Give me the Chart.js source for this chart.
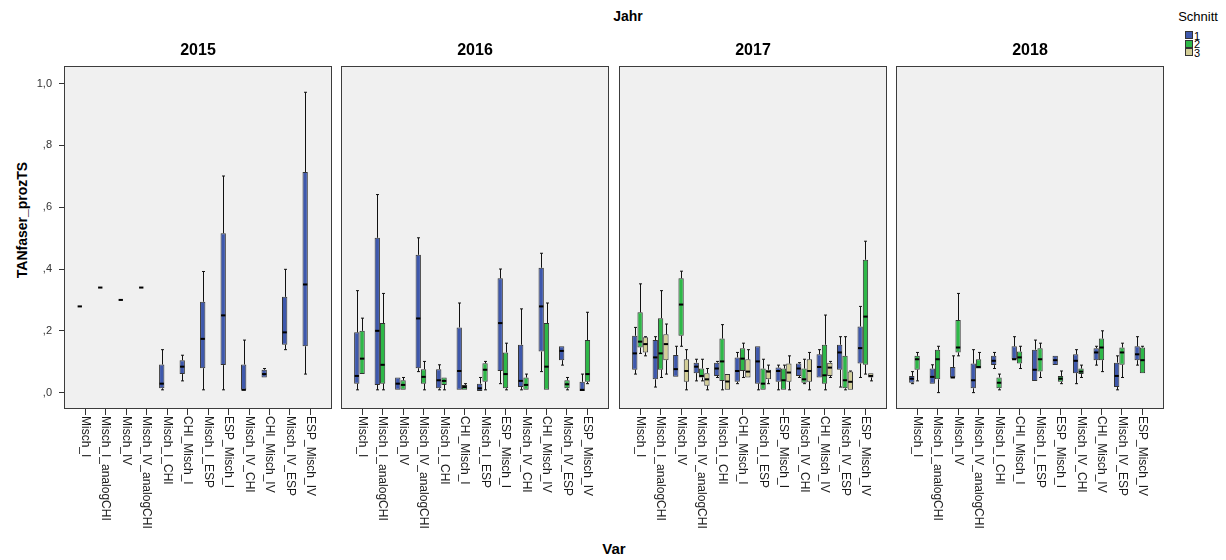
<!DOCTYPE html>
<html>
<head>
<meta charset="utf-8">
<script src="https://cdn.jsdelivr.net/npm/chart.js@4.4.0/dist/chart.umd.min.js"></script>
<style>
  body { margin: 0; background: #fff; font-family: "Liberation Sans", Arial, sans-serif; }
  #wrap { position: relative; width: 1226px; height: 560px; overflow: hidden; }
  #wrap canvas { position: absolute; top: 0; }
  .lbl { position: absolute; color: #000; white-space: nowrap; transform: translate(-50%, -50%); }
  .sw { position: absolute; width: 8px; height: 8px; box-sizing: border-box; border: 1px solid #333; }
  .swl { position: absolute; font-size: 11px; line-height: 11px; color: #000; transform: translateY(-50%); }
</style>
</head>
<body>
<div id="wrap">
  <div class="lbl" style="left:628px;top:16px;font-size:14px;font-weight:bold">Jahr</div>
  <div class="lbl" style="left:614px;top:548px;font-size:15px;font-weight:bold">Var</div>
  <div class="lbl" style="left:22px;top:220px;font-size:14px;font-weight:bold;transform:translate(-50%,-50%) rotate(-90deg)">TANfaser_prozTS</div>
  <div class="lbl" style="left:1198px;top:16px;font-size:13px">Schnitt</div>
</div>
<script>
// categories
const vars = ['Misch_I', 'Misch_I_analogCHI', 'Misch_IV', 'Misch_IV_analogCHI', 'Misch_I_CHI', 'CHI_Misch_I',
  'Misch_I_ESP', 'ESP_Misch_I', 'Misch_IV_CHI', 'CHI_Misch_IV', 'Misch_IV_ESP', 'ESP_Misch_IV'];
const years = ['2015', '2016', '2017', '2018'];
const schnitt = ['1', '2', '3'];
const yTicks = [0, 0.2, 0.4, 0.6, 0.8, 1.0];

// box stats per Var: [min, q1, median, q3, max]
const y2015_s1 = [
  [0.279, 0.279, 0.279, 0.279, 0.279],
  [0.340, 0.340, 0.340, 0.340, 0.340],
  [0.300, 0.300, 0.300, 0.300, 0.300],
  [0.340, 0.340, 0.340, 0.340, 0.340],
  [0.009, 0.014, 0.029, 0.091, 0.139],
  [0.038, 0.060, 0.084, 0.105, 0.121],
  [0.009, 0.079, 0.174, 0.294, 0.392],
  [0.009, 0.089, 0.250, 0.516, 0.701],
  [0.009, 0.009, 0.009, 0.091, 0.170],
  [0.049, 0.049, 0.060, 0.074, 0.078],
  [0.139, 0.155, 0.195, 0.310, 0.399],
  [0.060, 0.150, 0.350, 0.714, 0.972]
];
const y2016_s1 = [
  [0.009, 0.029, 0.054, 0.195, 0.330],
  [0.009, 0.025, 0.200, 0.501, 0.641],
  [0.009, 0.009, 0.029, 0.049, 0.049],
  [0.068, 0.079, 0.240, 0.446, 0.501],
  [0.009, 0.014, 0.040, 0.076, 0.090],
  [0.009, 0.009, 0.070, 0.211, 0.290],
  [0.005, 0.005, 0.014, 0.029, 0.049],
  [0.029, 0.070, 0.225, 0.370, 0.400],
  [0.009, 0.018, 0.038, 0.155, 0.271],
  [0.068, 0.133, 0.279, 0.404, 0.451],
  [0.089, 0.105, 0.135, 0.150, 0.150],
  [0.005, 0.005, 0.009, 0.035, 0.060]
];
const y2016_s2 = [
  [0.060, 0.060, 0.110, 0.200, 0.241],
  [0.009, 0.029, 0.090, 0.225, 0.321],
  [0.009, 0.009, 0.025, 0.040, 0.049],
  [0.009, 0.029, 0.051, 0.076, 0.101],
  [0.009, 0.025, 0.038, 0.049, 0.049],
  [0.009, 0.009, 0.018, 0.025, 0.029],
  [0.009, 0.035, 0.074, 0.095, 0.101],
  [0.009, 0.014, 0.060, 0.130, 0.160],
  [0.009, 0.009, 0.025, 0.049, 0.060],
  [0.009, 0.009, 0.084, 0.225, 0.290],
  [0.009, 0.014, 0.027, 0.040, 0.049],
  [0.029, 0.035, 0.060, 0.170, 0.260]
];
const y2017_s1 = [
  [0.060, 0.074, 0.127, 0.184, 0.211],
  [0.018, 0.043, 0.114, 0.170, 0.181],
  [0.051, 0.051, 0.076, 0.122, 0.150],
  [0.038, 0.063, 0.084, 0.097, 0.108],
  [0.049, 0.054, 0.078, 0.097, 0.101],
  [0.029, 0.035, 0.070, 0.114, 0.130],
  [0.009, 0.029, 0.101, 0.150, 0.150],
  [0.009, 0.035, 0.070, 0.081, 0.089],
  [0.049, 0.054, 0.078, 0.094, 0.097],
  [0.049, 0.049, 0.083, 0.124, 0.139],
  [0.018, 0.074, 0.130, 0.155, 0.181],
  [0.049, 0.094, 0.144, 0.214, 0.279]
];
const y2017_s2 = [
  [0.127, 0.146, 0.165, 0.260, 0.352],
  [0.049, 0.074, 0.127, 0.241, 0.330],
  [0.150, 0.184, 0.285, 0.370, 0.393],
  [0.038, 0.049, 0.054, 0.078, 0.108],
  [0.009, 0.038, 0.101, 0.175, 0.220],
  [0.049, 0.070, 0.110, 0.144, 0.160],
  [0.009, 0.009, 0.029, 0.078, 0.108],
  [0.009, 0.009, 0.040, 0.078, 0.089],
  [0.029, 0.032, 0.043, 0.078, 0.108],
  [0.009, 0.029, 0.056, 0.155, 0.251],
  [0.009, 0.014, 0.040, 0.119, 0.181],
  [0.060, 0.090, 0.246, 0.430, 0.490]
];
const y2017_s3 = [
  [0.119, 0.130, 0.157, 0.179, 0.181],
  [0.060, 0.105, 0.157, 0.189, 0.222],
  [0.009, 0.035, 0.070, 0.108, 0.139],
  [0.009, 0.022, 0.043, 0.063, 0.078],
  [0.009, 0.009, 0.036, 0.060, 0.060],
  [0.049, 0.049, 0.068, 0.108, 0.139],
  [0.029, 0.043, 0.068, 0.074, 0.089],
  [0.009, 0.035, 0.065, 0.094, 0.119],
  [0.009, 0.035, 0.070, 0.108, 0.130],
  [0.049, 0.054, 0.081, 0.097, 0.101],
  [0.009, 0.009, 0.035, 0.068, 0.070],
  [0.038, 0.049, 0.054, 0.063, 0.063]
];
const y2018_s1 = [
  [0.029, 0.032, 0.045, 0.054, 0.068],
  [0.029, 0.029, 0.051, 0.078, 0.090],
  [0.049, 0.049, 0.049, 0.083, 0.119],
  [0.000, 0.014, 0.040, 0.094, 0.139],
  [0.078, 0.089, 0.103, 0.119, 0.130],
  [0.108, 0.108, 0.108, 0.150, 0.181],
  [0.038, 0.038, 0.074, 0.139, 0.170],
  [0.089, 0.089, 0.105, 0.119, 0.119],
  [0.029, 0.063, 0.103, 0.124, 0.139],
  [0.089, 0.105, 0.130, 0.144, 0.150],
  [0.009, 0.018, 0.054, 0.097, 0.119],
  [0.089, 0.105, 0.124, 0.150, 0.181]
];
const y2018_s2 = [
  [0.038, 0.074, 0.108, 0.119, 0.130],
  [0.000, 0.043, 0.108, 0.139, 0.150],
  [0.119, 0.130, 0.146, 0.235, 0.321],
  [0.078, 0.078, 0.083, 0.108, 0.130],
  [0.009, 0.014, 0.032, 0.049, 0.060],
  [0.078, 0.094, 0.114, 0.133, 0.150],
  [0.049, 0.068, 0.108, 0.144, 0.160],
  [0.029, 0.035, 0.045, 0.054, 0.070],
  [0.049, 0.060, 0.068, 0.078, 0.089],
  [0.068, 0.105, 0.146, 0.175, 0.200],
  [0.049, 0.090, 0.130, 0.146, 0.160],
  [0.063, 0.063, 0.105, 0.146, 0.150]
];

const panelSeries = [
  [y2015_s1, null, null],
  [y2016_s1, y2016_s2, null],
  [y2017_s1, y2017_s2, y2017_s3],
  [y2018_s1, y2018_s2, null]
];

const colors = ['#3e58ac', '#2eb848', '#d3ce97'];
const frameLeft = [64, 341, 619, 896];
const frameW = 268;
const FONT = '"Liberation Sans", Arial, sans-serif';

const wrap = document.getElementById('wrap');

// legend
schnitt.forEach((s, k) => {
  const sw = document.createElement('div');
  sw.className = 'sw';
  sw.style.left = '1185px';
  sw.style.top = (31 + k * 8.5) + 'px';
  sw.style.background = colors[k];
  wrap.appendChild(sw);
  const t = document.createElement('div');
  t.className = 'swl';
  t.style.left = '1194px';
  t.style.top = (35.5 + k * 8.5) + 'px';
  t.textContent = s;
  wrap.appendChild(t);
});

const fmt = (v) => v.toFixed(1).replace('.', ',').replace(/^0/, '');

const boxPlugin = {
  id: 'spssBoxes',
  beforeDraw(chart) {
    const { ctx, chartArea: a } = chart;
    ctx.save();
    ctx.fillStyle = '#f0f0f0';
    ctx.fillRect(a.left, a.top, a.right - a.left, a.bottom - a.top);
    ctx.restore();
  },
  afterDatasetsDraw(chart) {
    const { ctx } = chart;
    const yScale = chart.scales.y;
    chart.data.datasets.forEach((ds, d) => {
      const meta = chart.getDatasetMeta(d);
      ds.stats.forEach((s, i) => {
        if (!s) return;
        const bar = meta.data[i];
        const x = Math.round(bar.x) + 0.5;
        const w = bar.width;
        const [mn, q1, md, q3, mx] = s.map((v) => yScale.getPixelForValue(v));
        ctx.save();
        ctx.strokeStyle = '#111';
        ctx.lineWidth = 1;
        ctx.beginPath();
        if (mx < q3 - 0.5) {
          ctx.moveTo(x, q3); ctx.lineTo(x, mx);
          ctx.moveTo(x - 1.5, mx); ctx.lineTo(x + 1.5, mx);
        }
        if (mn > q1 + 0.5) {
          ctx.moveTo(x, q1); ctx.lineTo(x, mn);
          ctx.moveTo(x - 1.5, mn); ctx.lineTo(x + 1.5, mn);
        }
        ctx.stroke();
        ctx.fillStyle = '#000';
        ctx.fillRect(bar.x - w / 2 + 0.5, md - 1, w - 1, 2);
        ctx.restore();
      });
    });
  },
  afterDraw(chart, args, opts) {
    const { ctx, chartArea: a } = chart;
    const xScale = chart.scales.x;
    ctx.save();
    // frame
    ctx.strokeStyle = '#3c3c3c';
    ctx.lineWidth = 1;
    ctx.strokeRect(a.left + 0.5, a.top + 0.5, a.right - a.left - 1, a.bottom - a.top - 1);
    // panel title
    ctx.fillStyle = '#000';
    ctx.font = 'bold 16px ' + FONT;
    ctx.textAlign = 'center';
    ctx.textBaseline = 'middle';
    ctx.fillText(opts.title, (a.left + a.right) / 2, a.top - 15);
    // rotated category labels, reading top to bottom
    ctx.font = '12px ' + FONT;
    ctx.fillStyle = '#1a1a1a';
    ctx.textAlign = 'left';
    vars.forEach((v, i) => {
      const px = xScale.getPixelForValue(i);
      ctx.save();
      ctx.translate(px, a.bottom + 7);
      ctx.rotate(Math.PI / 2);
      ctx.fillText(v, 0, 0);
      ctx.restore();
    });
    ctx.restore();
  }
};

years.forEach((yr, p) => {
  const first = p === 0;
  const canvas = document.createElement('canvas');
  const padL = first ? 0 : 6;
  const padR = 6;
  const yW = first ? 64 : 0;
  const cw = padL + yW + frameW + padR;
  canvas.width = cw;
  canvas.height = 560;
  canvas.style.left = (frameLeft[p] - yW - padL) + 'px';
  canvas.style.width = cw + 'px';
  canvas.style.height = '560px';
  wrap.appendChild(canvas);

  const datasets = schnitt.map((s, k) => {
    const stats = panelSeries[p][k] || vars.map(() => null);
    return {
      label: s,
      stats: stats,
      data: stats.map((st, i) => ({ x: i, y: st ? [st[1], st[3]] : null })),
      backgroundColor: colors[k],
      borderColor: '#333',
      borderWidth: 1,
      borderSkipped: false,
      categoryPercentage: 0.78,
      barPercentage: 1.0
    };
  });

  new Chart(canvas, {
    type: 'bar',
    data: { datasets },
    options: {
      responsive: false,
      animation: false,
      devicePixelRatio: 1,
      layout: { padding: { top: 66, bottom: 0, left: padL, right: padR } },
      plugins: {
        legend: { display: false },
        tooltip: { enabled: false },
        spssBoxes: { title: yr }
      },
      scales: {
        x: {
          type: 'linear',
          min: -1.03,
          max: 12.05,
          offset: false,
          afterBuildTicks: (s) => { s.ticks = vars.map((v, i) => ({ value: i })); },
          afterFit: (s) => { s.height = 151; },
          ticks: { display: false },
          grid: { offset: false, drawOnChartArea: false, drawTicks: true, tickLength: 6, color: '#333' },
          border: { display: false }
        },
        y: {
          type: 'linear',
          display: first,
          min: -0.053,
          max: 1.057,
          afterBuildTicks: (s) => { s.ticks = yTicks.map((v) => ({ value: v })); },
          afterFit: (s) => { s.width = yW; },
          ticks: {
            callback: (v) => fmt(v),
            font: { family: FONT, size: 11 },
            color: '#333',
            padding: 7
          },
          grid: { drawOnChartArea: false, drawTicks: true, tickLength: 5, color: '#333' },
          border: { display: false }
        }
      }
    },
    plugins: [boxPlugin]
  });
});
</script>
</body>
</html>
